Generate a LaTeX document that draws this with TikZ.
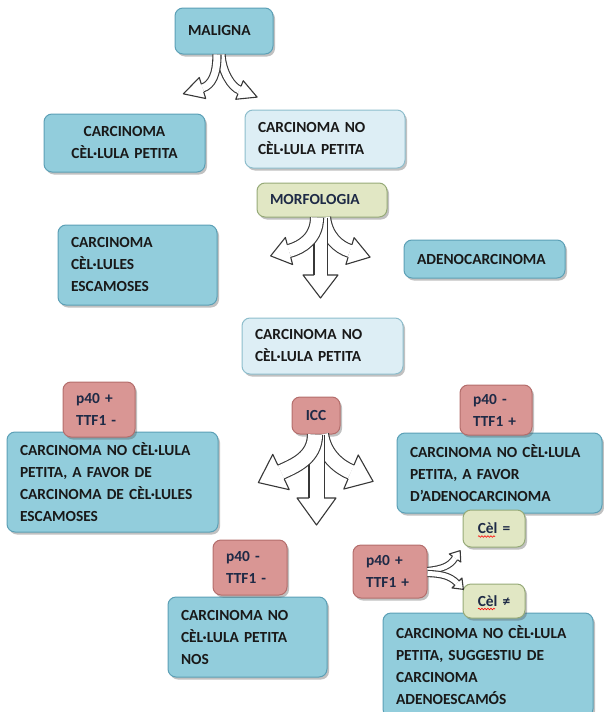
\documentclass[tikz,border=0pt]{standalone}
\usepackage{fontspec}
\setmainfont{Carlito}
\usetikzlibrary{shadows,calc,positioning,decorations.pathmorphing}

\definecolor{boxblue}{RGB}{146,205,220}
\definecolor{edgeblue}{RGB}{92,160,182}
\definecolor{boxlight}{RGB}{221,238,245}
\definecolor{boxgreen}{RGB}{225,231,196}
\definecolor{edgegreen}{RGB}{150,170,120}
\definecolor{boxpink}{RGB}{217,150,148}
\definecolor{edgepink}{RGB}{180,110,108}
\definecolor{txtnavy}{RGB}{30,42,70}
\definecolor{txtdark}{RGB}{25,25,25}
\definecolor{arrline}{RGB}{55,55,55}

% head of a block arrow: base point, angle, half wing, length, half band
\newcommand{\bhead}[5]{%
  \fill[white] ($(#1)+({#2+90}:#3)$) -- ($(#1)+(#2:#4)$) -- ($(#1)+({#2-90}:#3)$) -- cycle;
  \draw[arrline,line width=1.1pt,line join=round] ($(#1)+({#2+90}:#5)$) -- ($(#1)+({#2+90}:#3)$)
    -- ($(#1)+(#2:#4)$) -- ($(#1)+({#2-90}:#3)$) -- ($(#1)+({#2-90}:#5)$);}

\begin{document}
\begin{tikzpicture}[x=1pt,y=1pt,
    box/.style={rounded corners=8pt, line width=1pt, inner xsep=13pt, inner ysep=4pt,
      align=left, font=\bfseries\fontsize{15.4}{22}\selectfont,
      drop shadow={shadow xshift=2pt, shadow yshift=-2.5pt, opacity=0.35, fill=black!70}},
    bluebox/.style={box, draw=edgeblue, fill=boxblue, text=txtdark},
    lightbox/.style={box, draw=edgeblue!70, fill=boxlight, text=txtdark},
    greenbox/.style={box, draw=edgegreen, fill=boxgreen, text=txtnavy},
    pinkbox/.style={box, draw=edgepink, fill=boxpink, text=txtnavy},
    arrbody/.style={draw=arrline, line width=1.1pt, double=white, double distance=#1},
    squiggle/.style={red, line width=0.6pt, decorate, decoration={snake, amplitude=0.8pt, segment length=3pt}}]
  \useasboundingbox (0,0) rectangle (604,-712);

  % boxes
  \node[bluebox, text width=72pt, minimum height=46pt] (maligna) at (224,-31) {MALIGNA};
  \node[bluebox, text width=135pt, minimum height=58pt, align=center] (cpetita) at (124.5,-143)
    {CARCINOMA\\CÈL·LULA PETITA};
  \node[lightbox, text width=134pt, minimum height=58pt] (cnpa) at (325,-139)
    {CARCINOMA NO\\CÈL·LULA PETITA};
  \node[greenbox, text width=104pt, minimum height=34pt] (morf) at (322,-200) {MORFOLOGIA};
  \node[bluebox, text width=133pt, minimum height=80pt] (cesc) at (137.5,-265)
    {CARCINOMA\\CÈL·LULES\\ESCAMOSES};
  \node[bluebox, text width=135pt, minimum height=38pt] (adeno) at (484.5,-259) {ADENOCARCINOMA};
  \node[lightbox, text width=135pt, minimum height=56pt] (cnpb) at (322.5,-346)
    {CARCINOMA NO\\CÈL·LULA PETITA};

  \node[bluebox, text width=185pt, minimum height=100pt] (favesc) at (112.5,-482)
    {CARCINOMA NO CÈL·LULA\\PETITA, A FAVOR DE\\CARCINOMA DE CÈL·LULES\\ESCAMOSES};
  \node[pinkbox, text width=46pt, minimum height=55pt] (pposn) at (99,-409.5) {p40 +\\TTF1 -};
  \node[pinkbox, text width=22pt, minimum height=37pt, align=center] (icc) at (316,-415.5) {ICC};
  \node[bluebox, text width=179pt, minimum height=80pt] (favade) at (499.5,-473)
    {CARCINOMA NO CÈL·LULA\\PETITA, A FAVOR\\D’ADENOCARCINOMA};
  \node[pinkbox, text width=46pt, minimum height=50pt] (pnegp) at (496,-410) {p40 -\\TTF1 +};
  \node[greenbox, text width=36pt, minimum height=37pt, align=center] (celeq) at (494,-528.5) {Cèl =};
  \draw[squiggle] ([xshift=-16pt,yshift=-8pt]celeq.center) -- ([xshift=1pt,yshift=-8pt]celeq.center);

  \node[bluebox, text width=133pt, minimum height=80pt] (nos) at (247.5,-637)
    {CARCINOMA NO\\CÈL·LULA PETITA\\NOS};
  \node[pinkbox, text width=48pt, minimum height=55pt] (pnegn) at (250,-567.5) {p40 -\\TTF1 -};
  \node[pinkbox, text width=48pt, minimum height=53pt] (pposp) at (390,-571.5) {p40 +\\TTF1 +};
  \node[bluebox, text width=184pt, minimum height=104pt] (adesc) at (488,-665)
    {CARCINOMA NO CÈL·LULA\\PETITA, SUGGESTIU DE\\CARCINOMA\\ADENOESCAMÓS};
  \node[greenbox, text width=36pt, minimum height=34pt, align=center] (celne) at (494,-601) {Cèl ≠};
  \draw[squiggle] ([xshift=-16pt,yshift=-8pt]celne.center) -- ([xshift=1pt,yshift=-8pt]celne.center);

  % MALIGNA split
  \coordinate (mL) at (202.5,-88);
  \coordinate (mR) at (239.5,-90);
  \draw[arrbody=7pt] ([xshift=-3pt]maligna.south) .. controls (222,-72) and (231.5,-87) .. (mR);
  \bhead{mR}{-22}{10}{19}{4}
  \draw[arrbody=7pt] ([xshift=-7pt]maligna.south) .. controls (217,-75) and (211.5,-85) .. (mL);
  \bhead{mL}{197}{11}{20}{4}

  % MORFOLOGIA three ways
  \coordinate (fL) at (289,-251);
  \coordinate (fD) at (320.5,-275);
  \coordinate (fR) at (350,-251);
  \draw[arrbody=12pt] ([xshift=2pt]morf.south) .. controls (326,-236) and (338,-247.3) .. (fR);
  \bhead{fR}{-17}{14}{21}{6.5}
  \draw[arrbody=12pt] (fD |- morf.south) -- (fD);
  \bhead{fD}{270}{17.5}{23}{6.5}
  \draw[arrbody=12pt] ([xshift=-5pt]morf.south) .. controls (317,-238) and (302,-247.5) .. (fL);
  \bhead{fL}{195}{14}{19}{6.5}

  % ICC three ways
  \coordinate (iL) at (281,-472);
  \coordinate (iD) at (316.5,-498);
  \coordinate (iR) at (351,-472);
  \draw[arrbody=14pt] ([xshift=5pt]icc.south) .. controls (324,-455) and (339,-467) .. (iR);
  \bhead{iR}{-23}{18.5}{24}{7.5}
  \draw[arrbody=14pt] (iD |- icc.south) -- (iD);
  \bhead{iD}{270}{19.5}{27}{7.5}
  \draw[arrbody=14pt] ([xshift=-1pt]icc.south) .. controls (315,-458) and (294,-466) .. (iL);
  \bhead{iL}{205}{19.5}{25}{7.5}

  % p40 + TTF1 + split
  \coordinate (sU) at (455,-558);
  \coordinate (sD) at (457,-583);
  \draw[arrbody=5pt] ([yshift=1pt]pposp.east) .. controls (442,-569) and (450,-566) .. (sU);
  \bhead{sU}{55}{7}{9}{3}
  \draw[arrbody=5pt] ([yshift=-2pt]pposp.east) .. controls (442,-574) and (450,-576) .. (sD);
  \bhead{sD}{-45}{7}{9}{3}
\end{tikzpicture}
\end{document}
